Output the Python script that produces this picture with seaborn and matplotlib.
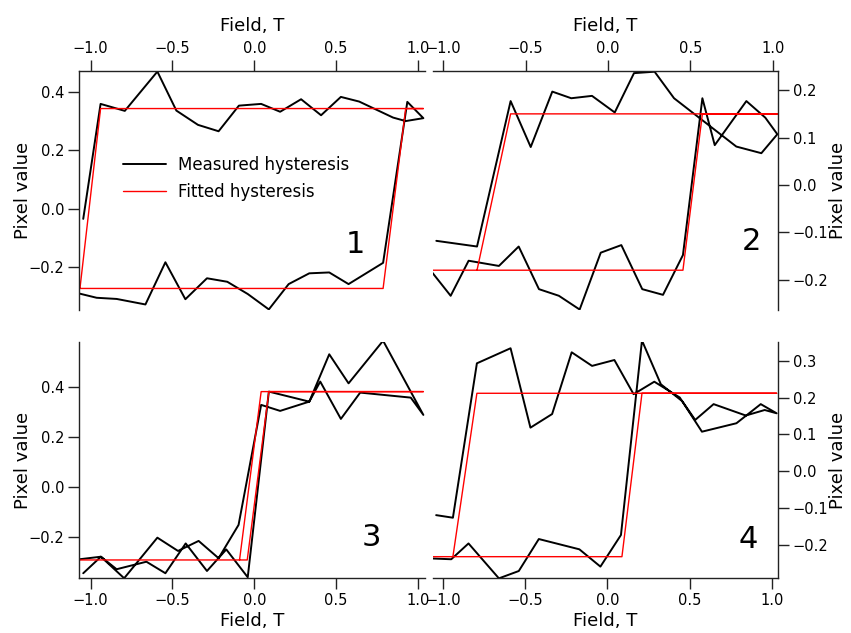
import numpy as np
import matplotlib
matplotlib.use("Agg")
import matplotlib.pyplot as plt
import seaborn as sns
from matplotlib.ticker import MultipleLocator

# panel 1 - measured loop (sweep up, then sweep down)
field_up_1 = [-1.065, -0.963, -0.841, -0.665, -0.543, -0.421, -0.289, -0.165, -0.04, 0.089, 0.21, 0.336, 0.458, 0.576, 0.787, 0.935, 1.033]
pixel_up_1 = [-0.292, -0.306, -0.31, -0.329, -0.184, -0.311, -0.239, -0.251, -0.293, -0.346, -0.259, -0.222, -0.219, -0.259, -0.186, 0.367, 0.311]
field_dn_1 = [0.925, 0.848, 0.641, 0.529, 0.408, 0.286, 0.158, 0.042, -0.094, -0.218, -0.344, -0.476, -0.592, -0.791, -0.939, -1.045]
pixel_dn_1 = [0.301, 0.313, 0.368, 0.384, 0.321, 0.376, 0.333, 0.36, 0.354, 0.266, 0.288, 0.337, 0.471, 0.336, 0.36, -0.035]
fit_field_1 = [-1.065, 0.787, 0.925, 1.033, -0.939, -1.065]
fit_pixel_1 = [-0.274, -0.274, 0.344, 0.344, 0.344, -0.274]

# panel 2
field_up_2 = [-1.069, -0.955, -0.846, -0.662, -0.542, -0.419, -0.298, -0.172, -0.044, 0.081, 0.208, 0.334, 0.455, 0.573, 0.648, 0.84, 0.955, 1.028]
pixel_up_2 = [-0.184, -0.234, -0.16, -0.171, -0.13, -0.22, -0.234, -0.263, -0.143, -0.127, -0.22, -0.232, -0.148, 0.183, 0.084, 0.177, 0.142, 0.107]
field_dn_2 = [0.931, 0.779, 0.401, 0.283, 0.158, 0.041, -0.097, -0.223, -0.338, -0.469, -0.591, -0.795, -1.042]
pixel_dn_2 = [0.067, 0.081, 0.183, 0.239, 0.236, 0.153, 0.188, 0.183, 0.197, 0.08, 0.177, -0.13, -0.118]
fit_field_2 = [-1.069, 0.455, 0.573, 1.03, -0.591, -0.795]
fit_pixel_2 = [-0.18, -0.18, 0.15, 0.15, 0.15, -0.18]

# panel 3
field_up_3 = [-1.045, -0.937, -0.841, -0.659, -0.543, -0.419, -0.289, -0.171, -0.04, 0.089, 0.336, 0.403, 0.529, 0.647, 0.956, 1.033]
pixel_up_3 = [-0.343, -0.277, -0.327, -0.297, -0.343, -0.224, -0.334, -0.248, -0.359, 0.382, 0.342, 0.422, 0.273, 0.378, 0.358, 0.289]
field_dn_3 = [0.787, 0.576, 0.458, 0.336, 0.158, 0.042, -0.096, -0.218, -0.34, -0.466, -0.592, -0.795, -0.937, -1.065]
pixel_dn_3 = [0.585, 0.415, 0.531, 0.342, 0.305, 0.329, -0.15, -0.283, -0.214, -0.254, -0.201, -0.363, -0.277, -0.287]
fit_field_3 = [-1.065, -0.043, 0.089, 1.033, 0.042, -0.09]
fit_pixel_3 = [-0.29, -0.29, 0.382, 0.382, 0.382, -0.29]

# panel 4
field_up_4 = [-1.063, -0.951, -0.846, -0.661, -0.54, -0.418, -0.171, -0.043, 0.082, 0.21, 0.325, 0.455, 0.534, 0.646, 0.842, 0.957, 1.03]
pixel_up_4 = [-0.238, -0.24, -0.197, -0.292, -0.272, -0.185, -0.213, -0.26, -0.174, 0.355, 0.236, 0.19, 0.139, 0.182, 0.151, 0.166, 0.157]
field_dn_4 = [0.933, 0.785, 0.575, 0.44, 0.285, 0.159, 0.042, -0.094, -0.218, -0.337, -0.469, -0.59, -0.795, -0.941, -1.043]
pixel_dn_4 = [0.182, 0.13, 0.107, 0.2, 0.243, 0.209, 0.302, 0.286, 0.323, 0.155, 0.118, 0.334, 0.293, -0.127, -0.12]
fit_field_4 = [-1.063, 0.088, 0.21, 1.03, -0.795, -0.941]
fit_pixel_4 = [-0.233, -0.233, 0.2115, 0.2115, 0.2115, -0.233]

panel_labels = ["1", "2", "3", "4"]

sns.set_style("ticks")
plt.rcParams["font.family"] = ["DejaVu Sans"]
plt.rcParams["axes.edgecolor"] = "#222222"
plt.rcParams["xtick.color"] = "#222222"
plt.rcParams["ytick.color"] = "#222222"
plt.rcParams["xtick.labelcolor"] = "black"
plt.rcParams["ytick.labelcolor"] = "black"
plt.rcParams["text.color"] = "black"
plt.rcParams["axes.labelcolor"] = "black"

fig = plt.figure(figsize=(8.51, 6.33), dpi=100)
W, H = 851.0, 633.0
boxes = [
    (79.3, 425.0, 71.0, 310.0),
    (432.7, 777.5, 71.0, 310.0),
    (79.3, 425.0, 342.0, 578.0),
    (432.7, 777.5, 342.0, 578.0),
]
xlims = [(-1.069, 1.043), (-1.064, 1.029), (-1.069, 1.043), (-1.064, 1.035)]
ylims = [(-0.348, 0.473), (-0.264, 0.2405), (-0.362, 0.58), (-0.291, 0.351)]
ysteps = [0.2, 0.1, 0.2, 0.1]
num_pos = [(0.798, 0.272), (0.925, 0.286), (0.846, 0.171), (0.915, 0.164)]

data = [
    (field_up_1, pixel_up_1, field_dn_1, pixel_dn_1, fit_field_1, fit_pixel_1),
    (field_up_2, pixel_up_2, field_dn_2, pixel_dn_2, fit_field_2, fit_pixel_2),
    (field_up_3, pixel_up_3, field_dn_3, pixel_dn_3, fit_field_3, fit_pixel_3),
    (field_up_4, pixel_up_4, field_dn_4, pixel_dn_4, fit_field_4, fit_pixel_4),
]

for i, (box, d) in enumerate(zip(boxes, data)):
    l, r, t, b = box
    ax = fig.add_axes([l / W, 1 - b / H, (r - l) / W, (b - t) / H])
    fu, pu, fd, pd_, ff, fp = d
    mx = np.concatenate([fu, fd])
    my = np.concatenate([pu, pd_])
    sns.lineplot(x=mx, y=my, sort=False, estimator=None, color="black", lw=1.4,
                 ax=ax, label="Measured hysteresis")
    sns.lineplot(x=ff, y=fp, sort=False, estimator=None, color="#ff0000", lw=1.0,
                 ax=ax, label="Fitted hysteresis")
    ax.set_xlim(*xlims[i])
    ax.set_ylim(*ylims[i])
    ax.xaxis.set_major_locator(MultipleLocator(0.5))
    ax.yaxis.set_major_locator(MultipleLocator(ysteps[i]))

    top = i < 2
    right = i % 2 == 1
    for s in ["top", "bottom", "left", "right"]:
        ax.spines[s].set_visible(False)
        ax.spines[s].set_linewidth(1.0)
    ax.spines["top" if top else "bottom"].set_visible(True)
    ax.spines["right" if right else "left"].set_visible(True)
    if top:
        ax.xaxis.set_ticks_position("top")
        ax.xaxis.set_label_position("top")
    if right:
        ax.yaxis.set_ticks_position("right")
        ax.yaxis.set_label_position("right")
    ax.tick_params(direction="out", length=8, width=1.0, labelsize=10.5, pad=3)

    ax.set_xlabel("Field, T", fontsize=13, labelpad=7 if top else 3)
    ax.set_ylabel("Pixel value", fontsize=13, labelpad=0 if right else -3)
    ax.text(num_pos[i][0], num_pos[i][1], panel_labels[i], transform=ax.transAxes,
            fontsize=22, ha="center", va="center")

    if i == 0:
        ax.legend(frameon=False, loc="center left", bbox_to_anchor=(0.125, 0.55),
                  fontsize=12, handlelength=2.6, handletextpad=0.7,
                  borderaxespad=0, borderpad=0, labelspacing=0.55)
    else:
        ax.get_legend().remove()

fig.savefig("out.png", dpi=100)
